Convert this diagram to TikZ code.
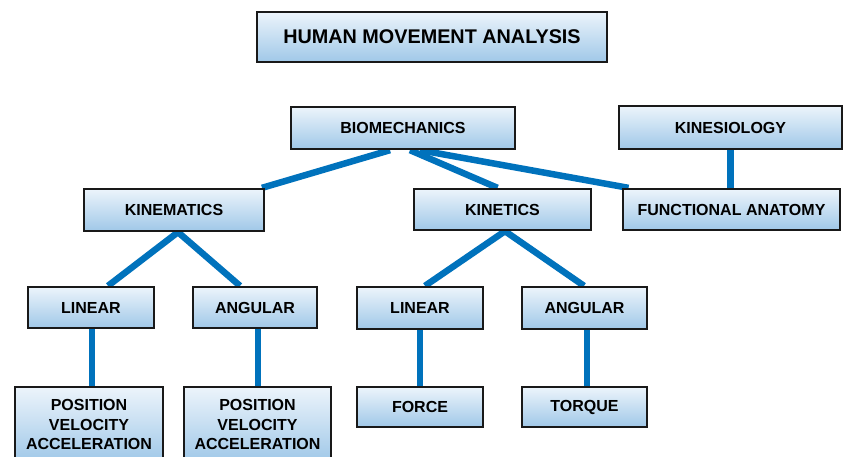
\documentclass[tikz,border=0pt]{standalone}
\usepackage{fontspec}
\setmainfont{Liberation Sans}
\usetikzlibrary{backgrounds}
\definecolor{linkblue}{RGB}{0,114,188}
\definecolor{boxtop}{RGB}{236,244,251}
\definecolor{boxbot}{RGB}{160,200,232}
\tikzset{
  box/.style={draw=black!90, line width=2.3pt, top color=boxtop, bottom color=boxbot,
    inner sep=0pt, align=center, font=\fontsize{16}{19.5}\selectfont\bfseries},
  link/.style={draw=linkblue, line width=6.5pt}
}
\begin{document}
\begin{tikzpicture}[x=1pt,y=-1pt]
\useasboundingbox (0,0) rectangle (846,456);
\clip (0,0) rectangle (846,456);
\node[box, minimum width=350pt, minimum height=50pt, font=\fontsize{19.8}{22}\selectfont\bfseries] (title) at (432,37) {HUMAN MOVEMENT ANALYSIS};
\node[box, minimum width=224pt, minimum height=42pt] (bio) at (403,128) {BIOMECHANICS};
\node[box, minimum width=223pt, minimum height=43pt] (kin) at (730.5,127.5) {KINESIOLOGY};
\node[box, minimum width=180pt, minimum height=42pt] (kmat) at (174,210) {KINEMATICS};
\node[box, minimum width=177pt, minimum height=41pt] (ktic) at (502.5,209.5) {KINETICS};
\node[box, minimum width=217pt, minimum height=41pt] (fa) at (731.5,209.5) {FUNCTIONAL ANATOMY};
\node[box, minimum width=126pt, minimum height=41pt] (lin1) at (91,307.5) {LINEAR};
\node[box, minimum width=124pt, minimum height=41pt] (ang1) at (255,307.5) {ANGULAR};
\node[box, minimum width=126pt, minimum height=42pt] (lin2) at (420,308) {LINEAR};
\node[box, minimum width=125pt, minimum height=42pt] (ang2) at (584.5,308) {ANGULAR};
\node[box, minimum width=148pt, minimum height=75pt] (pos1) at (89,424.5) {POSITION\\VELOCITY\\ACCELERATION};
\node[box, minimum width=147pt, minimum height=75pt] (pos2) at (257.5,424.5) {POSITION\\VELOCITY\\ACCELERATION};
\node[box, minimum width=126pt, minimum height=40pt] (force) at (420,407) {FORCE};
\node[box, minimum width=125pt, minimum height=40pt] (torque) at (584.5,407) {TORQUE};
\begin{pgfonlayer}{background}
\draw[link] ([xshift=-13pt]bio.south) -- ([xshift=88pt]kmat.north);
\draw[link] ([xshift=7pt]bio.south) -- ([xshift=-5pt]ktic.north);
\draw[link] ([xshift=17pt]bio.south) -- ([xshift=-103pt]fa.north);
\draw[link] (kin.south) -- (kin.south |- fa.north);
\draw[link] ([xshift=4pt]kmat.south) -- ([xshift=17pt]lin1.north);
\draw[link] ([xshift=4pt]kmat.south) -- ([xshift=-15pt]ang1.north);
\draw[link] ([xshift=2.5pt]ktic.south) -- ([xshift=5pt]lin2.north);
\draw[link] ([xshift=2.5pt]ktic.south) -- ([xshift=-0.5pt]ang2.north);
\draw[link] ([xshift=1pt]lin1.south) -- ([xshift=1pt]lin1.south |- pos1.north);
\draw[link] ([xshift=3pt]ang1.south) -- ([xshift=3pt]ang1.south |- pos2.north);
\draw[link] (lin2.south) -- (lin2.south |- force.north);
\draw[link] ([xshift=2.5pt]ang2.south) -- ([xshift=2.5pt]ang2.south |- torque.north);
\end{pgfonlayer}
\end{tikzpicture}
\end{document}
